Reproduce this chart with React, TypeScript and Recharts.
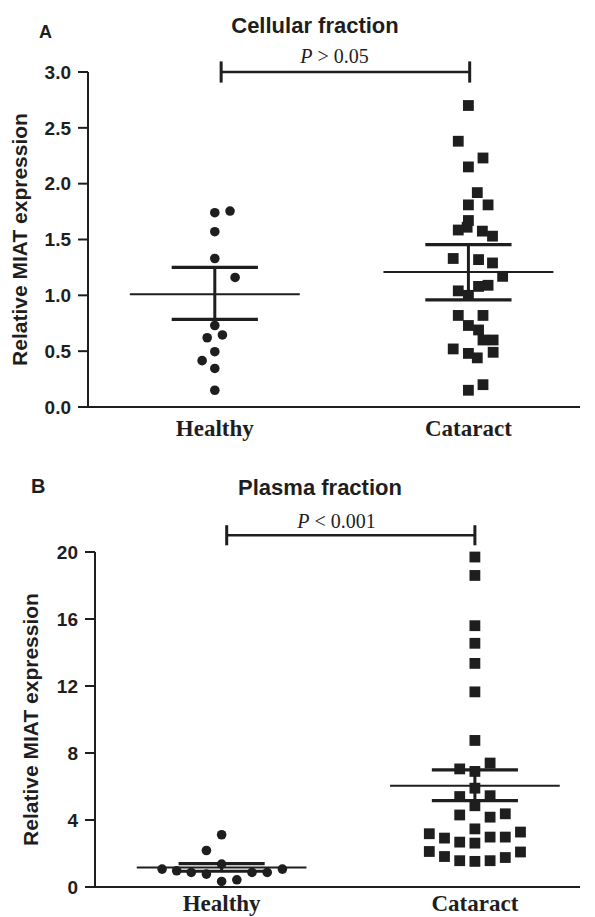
import React from 'react';
import { ScatterChart, Scatter, XAxis, YAxis, ReferenceLine } from 'recharts';

const INK = '#1e1e1e';
const SANS = '"Liberation Sans", Arial, Helvetica, sans-serif';
const SERIF = '"Liberation Serif", "Times New Roman", Times, serif';

const groups = ['Healthy', 'Cataract'];
const groupX = [1, 3];

// Panel A - cellular fraction
const cellularTicks = [0, 0.5, 1.0, 1.5, 2.0, 2.5, 3.0];
const cellularHealthy = [1.74, 1.755, 1.57, 1.33, 1.16, 0.73, 0.62, 0.645, 0.495, 0.415, 0.345, 0.15];
const cellularHealthyJitter = [0, 0.12, 0, 0, 0.16, 0, -0.06, 0.06, 0, -0.1, 0, 0];
const cellularCataract = [2.7, 2.38, 2.23, 2.15, 1.92, 1.81, 1.81, 1.67, 1.61, 1.585, 1.575, 1.53, 1.33, 1.32, 1.29, 1.17, 1.09, 1.08, 1.04, 1.0, 0.82, 0.82, 0.73, 0.69, 0.6, 0.6, 0.52, 0.49, 0.48, 0.44, 0.2, 0.15];
const cellularCataractJitter = [0, -0.08, 0.115, 0, 0.07, 0, 0.155, 0, -0.01, -0.08, 0.11, 0.19, -0.12, 0.08, 0.19, 0.27, 0.155, 0.08, -0.08, 0, -0.08, 0.115, 0, 0.08, 0.115, 0.195, -0.12, 0.195, 0, 0.07, 0.115, 0];
const cellularMean = [1.01, 1.21];
const cellularSemLow = [0.785, 0.96];
const cellularSemHigh = [1.25, 1.455];

// Panel B - plasma fraction
const plasmaTicks = [0, 4, 8, 12, 16, 20];
const plasmaHealthy = [3.12, 2.18, 1.37, 1.07, 0.97, 0.87, 0.77, 0.87, 0.87, 1.07, 0.33, 0.43];
const plasmaHealthyJitter = [0, -0.12, 0, -0.47, -0.355, -0.24, -0.12, 0.24, 0.36, 0.48, 0, 0.12];
const plasmaCataract = [19.7, 18.6, 15.6, 14.55, 13.35, 11.65, 8.75, 7.4, 7.05, 6.9, 5.9, 5.45, 5.4, 4.85, 4.37, 4.3, 4.17, 3.47, 3.28, 3.18, 2.98, 2.98, 2.92, 2.68, 2.62, 2.12, 2.09, 1.82, 1.76, 1.57, 1.57, 1.53];
const plasmaCataractJitter = [0, 0, 0, 0, 0, 0, 0, 0.12, -0.12, 0, 0, 0.12, -0.12, 0, 0.24, -0.12, 0.12, 0, 0.36, -0.36, 0.12, 0.24, -0.24, -0.12, 0, -0.36, 0.36, -0.24, 0.24, -0.12, 0.12, 0];
const plasmaMean = [1.17, 6.05];
const plasmaSemLow = [0.94, 5.16];
const plasmaSemHigh = [1.4, 6.99];

const toPoints = (vals: number[], jitter: number[], gx: number) =>
  vals.map((y, i) => ({ x: gx + (jitter[i] || 0), y }));

const DotShape = (p: any) => <circle cx={p.cx} cy={p.cy} r={4.8} fill={INK} />;
const SquareShape = (p: any) => (
  <rect x={p.cx - 5.4} y={p.cy - 5.4} width={10.8} height={10.8} fill={INK} />
);

type PanelProps = {
  height: number;
  margin: { top: number; right: number; bottom: number; left: number };
  yWidth: number;
  xDomain: [number, number];
  yDomain: [number, number];
  yTicks: number[];
  yFmt: (v: number) => string;
  healthy: { x: number; y: number }[];
  cataract: { x: number; y: number }[];
  mean: number[];
  semLow: number[];
  semHigh: number[];
  bracket: { x1: number; x2: number; y: number; half: number };
  labelOffset: number;
  xTickMargin: number;
};

function Panel(props: PanelProps) {
  const { height, margin, yWidth, xDomain, yDomain, yTicks, yFmt, healthy, cataract, mean, semLow, semHigh, bracket, labelOffset, xTickMargin } = props;
  return (
    <ScatterChart width={595} height={height} margin={margin}>
      <XAxis
        type="number"
        dataKey="x"
        domain={xDomain}
        ticks={groupX}
        interval={0}
        tickFormatter={(v: number) => groups[groupX.indexOf(v)] ?? ''}
        axisLine={{ stroke: INK, strokeWidth: 2 }}
        tickLine={false}
        tickSize={6}
        tickMargin={xTickMargin}
        height={30}
        tick={{ fontFamily: SERIF, fontWeight: 700, fontSize: 23, fill: INK }}
      />
      <YAxis
        type="number"
        dataKey="y"
        domain={yDomain}
        ticks={yTicks}
        interval={0}
        width={yWidth}
        tickFormatter={yFmt}
        axisLine={{ stroke: INK, strokeWidth: 2 }}
        tickLine={{ stroke: INK, strokeWidth: 2 }}
        tickSize={10}
        tickMargin={7}
        tick={{ fontFamily: SANS, fontWeight: 700, fontSize: 19, fill: INK }}
        label={{
          value: 'Relative MIAT expression',
          angle: -90,
          position: 'insideLeft',
          offset: labelOffset,
          style: { textAnchor: 'middle', fontFamily: SANS, fontWeight: 700, fontSize: 21, fill: INK },
        }}
      />
      {groupX.map((gx, i) => (
        <ReferenceLine key={`m${i}`} segment={[{ x: gx - 0.67, y: mean[i] }, { x: gx + 0.67, y: mean[i] }]} stroke={INK} strokeWidth={2} />
      ))}
      {groupX.map((gx, i) => (
        <ReferenceLine key={`h${i}`} segment={[{ x: gx - 0.34, y: semHigh[i] }, { x: gx + 0.34, y: semHigh[i] }]} stroke={INK} strokeWidth={3.2} />
      ))}
      {groupX.map((gx, i) => (
        <ReferenceLine key={`l${i}`} segment={[{ x: gx - 0.34, y: semLow[i] }, { x: gx + 0.34, y: semLow[i] }]} stroke={INK} strokeWidth={3.2} />
      ))}
      {groupX.map((gx, i) => (
        <ReferenceLine key={`v${i}`} segment={[{ x: gx, y: semLow[i] }, { x: gx, y: semHigh[i] }]} stroke={INK} strokeWidth={3} />
      ))}
      <ReferenceLine ifOverflow="visible" segment={[{ x: bracket.x1, y: bracket.y }, { x: bracket.x2, y: bracket.y }]} stroke={INK} strokeWidth={2.5} />
      <ReferenceLine ifOverflow="visible" segment={[{ x: bracket.x1, y: bracket.y - bracket.half }, { x: bracket.x1, y: bracket.y + bracket.half }]} stroke={INK} strokeWidth={3} />
      <ReferenceLine ifOverflow="visible" segment={[{ x: bracket.x2, y: bracket.y - bracket.half }, { x: bracket.x2, y: bracket.y + bracket.half }]} stroke={INK} strokeWidth={3} />
      <Scatter data={healthy} shape={DotShape} isAnimationActive={false} />
      <Scatter data={cataract} shape={SquareShape} isAnimationActive={false} />
    </ScatterChart>
  );
}

export default function App() {
  return (
    <div style={{ position: 'absolute', left: 0, top: 0, width: 595, height: 917, background: '#fff', overflow: 'hidden' }}>
      <div style={{ position: 'absolute', left: 0, top: 0 }}>
        <Panel
          height={450}
          margin={{ top: 72, right: 15, bottom: 13, left: 0 }}
          yWidth={88}
          xDomain={[0, 3.88]}
          yDomain={[0, 3]}
          yTicks={cellularTicks}
          yFmt={(v) => v.toFixed(1)}
          healthy={toPoints(cellularHealthy, cellularHealthyJitter, groupX[0])}
          cataract={toPoints(cellularCataract, cellularCataractJitter, groupX[1])}
          mean={cellularMean}
          semLow={cellularSemLow}
          semHigh={cellularSemHigh}
          bracket={{ x1: 1.05, x2: 3.01, y: 3.0, half: 0.095 }}
          labelOffset={19.5}
          xTickMargin={7}
        />
      </div>
      <div style={{ position: 'absolute', left: 0, top: 450 }}>
        <Panel
          height={467}
          margin={{ top: 102, right: 15, bottom: 0, left: 0 }}
          yWidth={95}
          xDomain={[0, 3.83]}
          yDomain={[0, 20]}
          yTicks={plasmaTicks}
          yFmt={(v) => String(v)}
          healthy={toPoints(plasmaHealthy, plasmaHealthyJitter, groupX[0])}
          cataract={toPoints(plasmaCataract, plasmaCataractJitter, groupX[1])}
          mean={plasmaMean}
          semLow={plasmaSemLow}
          semHigh={plasmaSemHigh}
          bracket={{ x1: 1.04, x2: 3.0, y: 21.0, half: 0.6 }}
          labelOffset={31}
          xTickMargin={2}
        />
      </div>
      <svg width={595} height={917} style={{ position: 'absolute', left: 0, top: 0, pointerEvents: 'none' }}>
        <text x={39} y={38} fontFamily={SANS} fontWeight={700} fontSize={18} fill={INK}>A</text>
        <text x={315} y={33} textAnchor="middle" fontFamily={SANS} fontWeight={700} fontSize={22} fill={INK}>Cellular fraction</text>
        <text x={334.5} y={63} textAnchor="middle" fontFamily={SERIF} fontSize={20} fill={INK}>
          <tspan fontStyle="italic">P</tspan> &gt; 0.05
        </text>
        <text x={31} y={493} fontFamily={SANS} fontWeight={700} fontSize={20} fill={INK}>B</text>
        <text x={320} y={495} textAnchor="middle" fontFamily={SANS} fontWeight={700} fontSize={22} fill={INK}>Plasma fraction</text>
        <text x={336.5} y={528} textAnchor="middle" fontFamily={SERIF} fontSize={20} fill={INK}>
          <tspan fontStyle="italic">P</tspan> &lt; 0.001
        </text>
      </svg>
    </div>
  );
}
